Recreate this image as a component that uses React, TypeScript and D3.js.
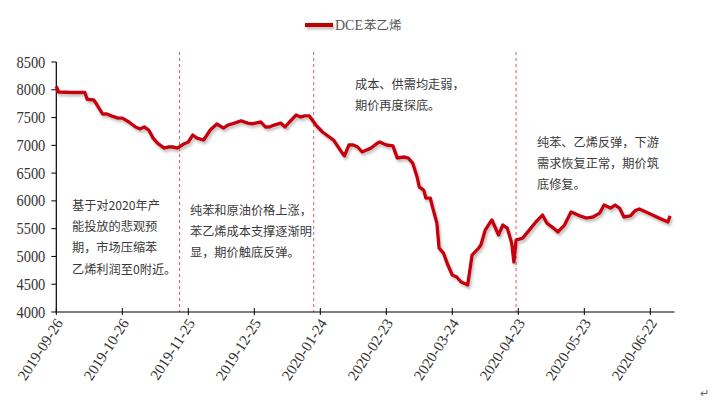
import * as d3 from "d3";

// DCE styrene futures close (yuan/ton)
const dates = [
  "2019-09-26", "2019-09-27", "2019-10-03", "2019-10-09", "2019-10-10", "2019-10-13", "2019-10-14",
  "2019-10-17", "2019-10-19", "2019-10-21", "2019-10-24", "2019-10-26", "2019-10-29", "2019-11-01",
  "2019-11-03", "2019-11-05", "2019-11-07", "2019-11-09", "2019-11-11", "2019-11-14", "2019-11-16",
  "2019-11-18", "2019-11-20", "2019-11-23", "2019-11-25", "2019-11-27", "2019-11-29", "2019-12-02",
  "2019-12-05", "2019-12-08", "2019-12-11", "2019-12-13", "2019-12-16", "2019-12-19", "2019-12-22",
  "2019-12-24", "2019-12-28", "2019-12-30", "2020-01-01", "2020-01-03", "2020-01-06", "2020-01-08",
  "2020-01-10", "2020-01-13", "2020-01-15", "2020-01-17", "2020-01-19", "2020-01-22", "2020-01-25",
  "2020-01-30", "2020-02-03", "2020-02-04", "2020-02-06", "2020-02-08", "2020-02-10", "2020-02-12",
  "2020-02-16", "2020-02-19", "2020-02-20", "2020-02-23", "2020-02-26", "2020-02-28", "2020-03-02",
  "2020-03-04", "2020-03-06", "2020-03-08", "2020-03-09", "2020-03-11", "2020-03-12", "2020-03-14",
  "2020-03-15", "2020-03-17", "2020-03-18", "2020-03-20", "2020-03-22", "2020-03-24", "2020-03-26",
  "2020-03-28", "2020-03-31", "2020-04-01", "2020-04-02", "2020-04-05", "2020-04-06", "2020-04-08",
  "2020-04-10", "2020-04-11", "2020-04-14", "2020-04-16", "2020-04-18", "2020-04-20", "2020-04-21",
  "2020-04-22", "2020-04-25", "2020-04-28", "2020-05-01", "2020-05-04", "2020-05-06", "2020-05-09",
  "2020-05-11", "2020-05-14", "2020-05-17", "2020-05-21", "2020-05-24", "2020-05-27", "2020-05-30",
  "2020-06-01", "2020-06-04", "2020-06-06", "2020-06-08", "2020-06-10", "2020-06-13", "2020-06-15",
  "2020-06-17", "2020-06-20", "2020-06-23", "2020-06-26", "2020-06-30", "2020-07-01",
];

const prices = [
  8060, 7960, 7950, 7950, 7830, 7815, 7760,
  7565, 7565, 7530, 7490, 7490, 7420, 7330,
  7295, 7330, 7275, 7130, 7040, 6950, 6970,
  6970, 6950, 7025, 7060, 7185, 7130, 7095,
  7275, 7385, 7310, 7365, 7400, 7440, 7400,
  7385, 7420, 7330, 7330, 7365, 7400, 7330,
  7420, 7545, 7510, 7530, 7530, 7365, 7240,
  7095, 6860, 6810, 7005, 7005, 6970, 6880,
  6950, 7040, 7060, 7005, 6990, 6770, 6790,
  6770, 6680, 6430, 6250, 6195, 6050, 6050,
  5890, 5600, 5150, 5060, 4845, 4665, 4630,
  4540, 4485, 4755, 5025, 5150, 5205, 5475,
  5600, 5655, 5385, 5565, 5510, 5240, 4900,
  5295, 5330, 5475, 5620, 5745, 5600, 5510,
  5440, 5565, 5800, 5730, 5690, 5710, 5780,
  5925, 5870, 5925, 5870, 5710, 5730, 5820,
  5855, 5800, 5745, 5690, 5620, 5730,
];

const xTickLabels = [
  "2019-09-26", "2019-10-26", "2019-11-25", "2019-12-25", "2020-01-24",
  "2020-02-23", "2020-03-24", "2020-04-23", "2020-05-23", "2020-06-22",
];
const yTicks = [4000, 4500, 5000, 5500, 6000, 6500, 7000, 7500, 8000, 8500];
const phaseBreaks = ["2019-11-21", "2020-01-21", "2020-04-22"];
const seriesName = "DCE苯乙烯";

const notes = [
  { x: 72, y: 210, lines: ["基于对2020年产", "能投放的悲观预", "期，市场压缩苯", "乙烯利润至0附近。"] },
  { x: 190, y: 215, lines: ["纯苯和原油价格上涨，", "苯乙烯成本支撑逐渐明", "显，期价触底反弹。"] },
  { x: 355, y: 89, lines: ["成本、供需均走弱，", "期价再度探底。"] },
  { x: 537, y: 147, lines: ["纯苯、乙烯反弹，下游", "需求恢复正常，期价筑", "底修复。"] },
];

const parse = d3.utcParse("%Y-%m-%d");
const serif = "'Liberation Serif', 'Times New Roman', serif";
const cjk = "'Noto Sans CJK SC', sans-serif";

export default function App() {
  const width = 720;
  const height = 400;
  const left = 56.3;
  const right = 674.5;
  const top = 62;
  const bottom = 312;

  const x = d3
    .scaleUtc()
    .domain([parse("2019-09-26")!, parse("2020-07-03")!])
    .range([left, right]);
  const y = d3.scaleLinear().domain([4000, 8500]).range([bottom, top]);

  const points = dates.map((d, i) => ({ date: parse(d)!, value: prices[i] }));
  const line = d3
    .line<{ date: Date; value: number }>()
    .x((d) => x(d.date))
    .y((d) => y(d.value))
    .curve(d3.curveLinear);

  return (
    <svg
      width={width}
      height={height}
      style={{ position: "absolute", left: 0, top: 0, background: "#fff" }}
    >
      <defs>
        <filter id="shadow" filterUnits="userSpaceOnUse" x={0} y={0} width={width} height={height}>
          <feDropShadow dx="1.5" dy="2.5" stdDeviation="1.2" floodColor="#777" floodOpacity="0.45" />
        </filter>
      </defs>

      {/* legend */}
      <line x1={305} x2={333} y1={25} y2={25} stroke="#c00000" strokeWidth={4} filter="url(#shadow)" />
      <text x={335} y={30} fontSize={14} fill="#555">
        <tspan fontFamily={serif}>DCE</tspan>
        <tspan fontFamily={cjk} fontSize={12.5} dx={1}>
          {seriesName.slice(3)}
        </tspan>
      </text>

      {/* phase separators */}
      {phaseBreaks.map((d) => (
        <line
          key={d}
          x1={x(parse(d)!)}
          x2={x(parse(d)!)}
          y1={52}
          y2={bottom}
          stroke="#d05050"
          strokeWidth={0.9}
          strokeDasharray="3,3"
        />
      ))}

      {/* y axis */}
      <line x1={left} x2={left} y1={top} y2={bottom} stroke="#000" strokeWidth={1.2} />
      {yTicks.map((t) => (
        <g key={t} transform={`translate(${left},${y(t)})`}>
          <line x1={-5} x2={0} stroke="#000" strokeWidth={1} />
          <text
            transform="scale(0.9,1)"
            x={-11 / 0.9}
            dy="0.35em"
            textAnchor="end"
            fontFamily={serif}
            fontSize={16}
            fill="#333"
          >
            {t}
          </text>
        </g>
      ))}

      {/* x axis */}
      <line x1={left} x2={right} y1={bottom} y2={bottom} stroke="#000" strokeWidth={1.2} />
      {xTickLabels.map((t) => {
        const px = x(parse(t)!);
        return (
          <g key={t} transform={`translate(${px},${bottom})`}>
            <line y1={-4} y2={3} stroke="#000" strokeWidth={1} />
            <text
              transform="translate(3,8) rotate(-57)"
              textAnchor="end"
              dy="0.35em"
              fontFamily={serif}
              fontSize={15}
              fill="#333"
            >
              {t}
            </text>
          </g>
        );
      })}

      {/* series */}
      <path
        d={line(points) ?? ""}
        fill="none"
        stroke="#c8000a"
        strokeWidth={3.4}
        strokeLinejoin="round"
        filter="url(#shadow)"
      />

      {/* annotations */}
      {notes.map((n, i) => (
        <text key={i} fontFamily={cjk} fontSize={12.2} fill="#3a3a3a">
          {n.lines.map((l, j) => (
            <tspan key={j} x={n.x} y={n.y + j * 21.2}>
              {l}
            </tspan>
          ))}
        </text>
      ))}

      <text x={700} y={397} fontSize={11} fill="#666" fontFamily={serif}>
        ↵
      </text>
    </svg>
  );
}
